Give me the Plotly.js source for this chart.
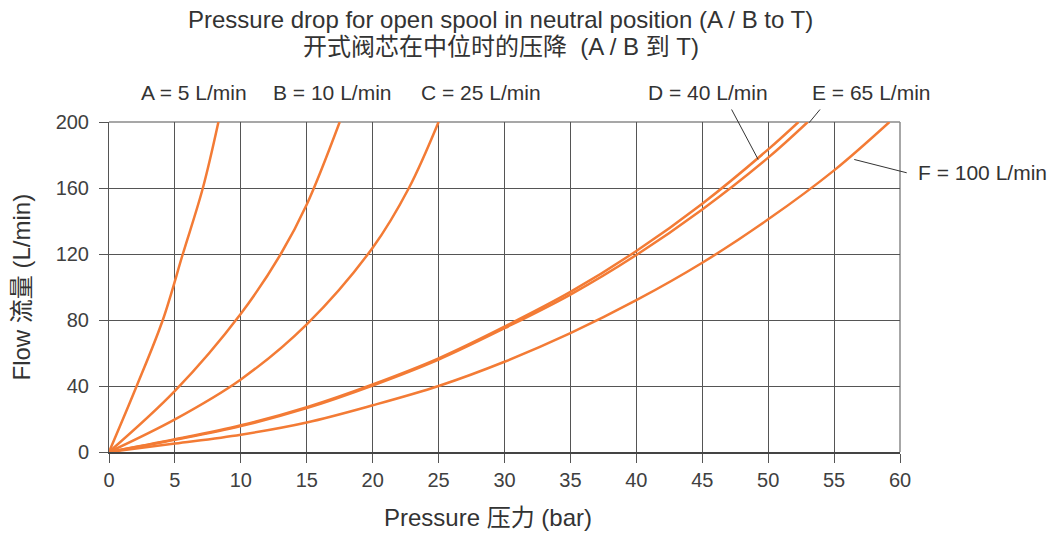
<!DOCTYPE html>
<html>
<head>
<meta charset="utf-8">
<script src="https://cdn.plot.ly/plotly-3.0.1.min.js"></script>
<style>html,body{margin:0;padding:0;background:#fff;}#chart{width:1053px;height:533px;}</style>
</head>
<body>
<div id="chart"></div>
<script>
// Flow curves: pressure (bar) vs flow (L/min)
const seriesNames = ["A = 5 L/min", "B = 10 L/min", "C = 25 L/min", "D = 40 L/min", "E = 65 L/min", "F = 100 L/min"];

const pressureA = [0, 2.1, 4.08, 5.6, 7.12, 8.3];
const flowA     = [0, 40, 80, 120, 160, 200];

const pressureB = [0, 5, 10, 13.03, 15, 17.5];
const flowB     = [0, 37, 83.8, 120, 150, 200];

const pressureC = [0, 5, 10, 15, 20, 22.75, 25.0];
const flowC     = [0, 19.8, 44, 77.4, 123.8, 160, 200];

const pressureD = [0, 5, 10, 15, 20, 25, 30, 35, 40, 45, 50, 52.3];
const flowD     = [0, 7.7, 16.2, 27.2, 41, 56.8, 76, 97, 121.8, 150.5, 183.4, 200];

const pressureE = [0, 5, 10, 15, 20, 25, 30, 35, 40, 45, 50, 53.0];
const flowE     = [0, 7.4, 15.7, 26.6, 40.3, 56, 75, 95.4, 119.4, 147, 178.4, 200];

const pressureF = [0, 5, 10, 15, 20, 25, 30, 35, 40, 45, 50, 55, 59.2];
const flowF     = [0, 5.1, 10.5, 17.9, 28.3, 40, 54.7, 72, 92, 114.7, 141, 170.7, 200];

const xTicks = [0, 5, 10, 15, 20, 25, 30, 35, 40, 45, 50, 55, 60];
const yTicks = [0, 40, 80, 120, 160, 200];

const titleLine1 = "Pressure drop for open spool in neutral position (A / B to T)";
const titleLine2 = "开式阀芯在中位时的压降  (A / B 到 T)";
const xTitle = "Pressure 压力 (bar)";
const yTitle = "Flow 流量 (L/min)";

const FONT = "Arial, 'Liberation Sans', 'Noto Sans CJK SC', sans-serif";
const TXT = "#333333";
const ORANGE = "#F37B35";

const xs = [pressureA, pressureB, pressureC, pressureD, pressureE, pressureF];
const ys = [flowA, flowB, flowC, flowD, flowE, flowF];

const traces = xs.map((x, i) => ({
  type: "scatter", mode: "lines", x: x, y: ys[i], name: seriesNames[i],
  line: {color: ORANGE, width: 2.5, shape: "spline", smoothing: 1},
  hoverinfo: "skip", showlegend: false
}));

const lbl = (text, x, y, size, anchor) => ({
  text: text, xref: "paper", yref: "paper", x: x, y: y, showarrow: false,
  xanchor: anchor || "center", yanchor: "middle", font: {size: size, color: TXT, family: FONT}
});

const annotations = [
  lbl(titleLine1, 0.495, 1.311, 24),
  lbl(titleLine2, 0.495, 1.229, 24),
  lbl(seriesNames[0], 0.1075, 1.0894, 21),
  lbl(seriesNames[1], 0.2819, 1.0894, 21),
  lbl(seriesNames[2], 0.4703, 1.0894, 21),
  lbl(seriesNames[3], 0.7573, 1.0894, 21),
  lbl(seriesNames[4], 0.9633, 1.0894, 21),
  lbl(seriesNames[5], 1.0202, 0.847, 21, "left"),
  lbl(xTitle, 0.479, -0.197, 24),
  Object.assign(lbl(yTitle, -0.11, 0.5015, 24), {textangle: -90})
];

const shapes = [
  {type: "line", xref: "paper", yref: "paper", x0: 0.7871, y0: 1.0379, x1: 0.8207, y1: 0.8864, line: {color: "#333", width: 1}},
  {type: "line", xref: "paper", yref: "paper", x0: 0.8989, y0: 1.0379, x1: 0.8850, y1: 0.9976, line: {color: "#333", width: 1}},
  {type: "line", xref: "paper", yref: "paper", x0: 0.9422, y0: 0.8864, x1: 1.0085, y1: 0.8461, line: {color: "#333", width: 1}},
  {type: "line", xref: "paper", yref: "paper", x0: 0, y0: 1, x1: 1, y1: 1, line: {color: "#8a8a8a", width: 1.5}, layer: "below"},
  {type: "line", xref: "paper", yref: "paper", x0: 1, y0: 0, x1: 1, y1: 1, line: {color: "#8a8a8a", width: 1.5}, layer: "below"}
];

const layout = {
  width: 1053, height: 533,
  margin: {l: 109, r: 153, t: 122, b: 81, pad: 0},
  paper_bgcolor: "#fff", plot_bgcolor: "#fff",
  font: {family: FONT, color: TXT, size: 20},
  showlegend: false,
  xaxis: {
    range: [0, 60], tickvals: xTicks, ticktext: xTicks.map(String),
    showgrid: true, gridcolor: "#555", gridwidth: 1,
    zeroline: false, showline: true, linecolor: "#444", linewidth: 2,
    ticks: "outside", ticklen: 9, tickcolor: "#555", tickwidth: 1,
    tickfont: {size: 20, color: "#404040", family: FONT}, fixedrange: true
  },
  yaxis: {
    range: [0, 200], tickvals: yTicks, ticktext: yTicks.map(String),
    showgrid: true, gridcolor: "#555", gridwidth: 1,
    zeroline: false, showline: true, linecolor: "#555", linewidth: 1,
    ticks: "outside", ticklen: 9, tickcolor: "#555", tickwidth: 1,
    ticklabelstandoff: 6,
    tickfont: {size: 20, color: "#404040", family: FONT}, fixedrange: true
  },
  annotations: annotations,
  shapes: shapes
};

Plotly.newPlot("chart", traces, layout, {displayModeBar: false, staticPlot: true});
</script>
</body>
</html>
